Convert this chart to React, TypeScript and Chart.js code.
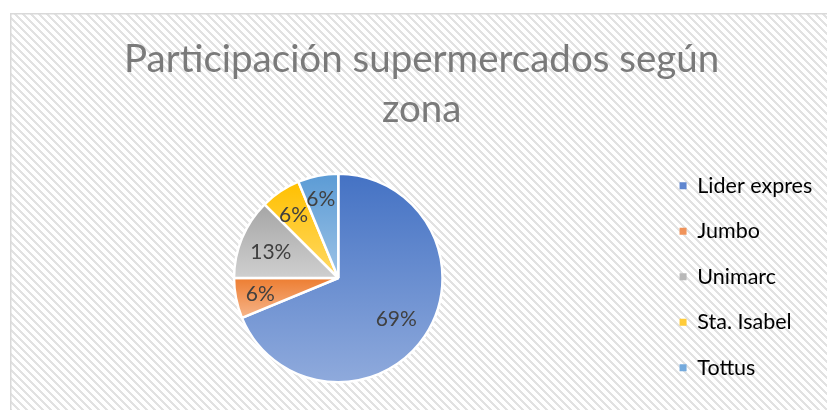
import { useEffect, useRef } from 'react';
import { Chart, registerables } from 'chart.js';

Chart.register(...registerables);

const categories = ['Lider expres', 'Jumbo', 'Unimarc', 'Sta. Isabel', 'Tottus'];
const values = [11, 1, 2, 1, 1];
const titleLines = ['Participación supermercados según', 'zona'];
const topColors = ['#4472C4', '#ED7D31', '#A5A5A5', '#FFC000', '#5B9BD5'];
const bottomColors = ['#8FAADC', '#F6B58A', '#CFCFCF', '#FFD966', '#9DC3E6'];
const legendColors = ['#5F86CF', '#F0935A', '#B8B8B8', '#FFCC3A', '#74AADD'];

const FONT = "Lato, 'Open Sans', sans-serif";
const W = 827;
const H = 410;

function sliceGradient(ctx: any) {
  const i = ctx.dataIndex ?? 0;
  const chart = ctx.chart;
  const area = chart.chartArea;
  if (!area) return topColors[i];
  const cx = (area.left + area.right) / 2;
  const cy = (area.top + area.bottom) / 2;
  const r = Math.min(area.width, area.height) / 2 - 1;
  const total = values.reduce((a, b) => a + b, 0);
  let cum = 0;
  for (let k = 0; k < i; k++) cum += values[k];
  const a0 = -Math.PI / 2 + (2 * Math.PI * cum) / total;
  const a1 = -Math.PI / 2 + (2 * Math.PI * (cum + values[i])) / total;
  let minY = Math.min(cy, cy + r * Math.sin(a0), cy + r * Math.sin(a1));
  let maxY = Math.max(cy, cy + r * Math.sin(a0), cy + r * Math.sin(a1));
  const inRange = (t: number) => t >= a0 && t <= a1;
  if (inRange(-Math.PI / 2) || inRange((3 * Math.PI) / 2)) minY = cy - r;
  if (inRange(Math.PI / 2)) maxY = cy + r;
  const g = chart.ctx.createLinearGradient(0, minY, 0, maxY);
  g.addColorStop(0, topColors[i]);
  g.addColorStop(1, bottomColors[i]);
  return g;
}

const backgroundPlugin = {
  id: 'hatchBackground',
  beforeDraw(chart: any) {
    const { ctx, width, height } = chart;
    ctx.save();
    ctx.fillStyle = '#ffffff';
    ctx.fillRect(0, 0, width, height);
    const pc = document.createElement('canvas');
    pc.width = 8;
    pc.height = 8;
    const p = pc.getContext('2d')!;
    p.fillStyle = '#ffffff';
    p.fillRect(0, 0, 8, 8);
    p.fillStyle = '#e2e2e2';
    for (let y = 0; y < 8; y++) {
      for (let x = 0; x < 8; x++) {
        if ((((x - y) % 8) + 8) % 8 < 3) p.fillRect(x, y, 1, 1);
      }
    }
    const pat = ctx.createPattern(pc, 'repeat');
    ctx.fillStyle = pat;
    ctx.fillRect(10, 13, width - 10, height - 13);
    ctx.strokeStyle = '#d9d9d9';
    ctx.lineWidth = 1.5;
    ctx.strokeRect(10.75, 13.75, width + 10, height + 10);
    ctx.restore();
  },
};

const labelPlugin = {
  id: 'pctLabels',
  afterDatasetsDraw(chart: any) {
    const meta = chart.getDatasetMeta(0);
    const ctx = chart.ctx;
    const total = values.reduce((a, b) => a + b, 0);
    ctx.save();
    ctx.font = `21px ${FONT}`;
    ctx.fillStyle = '#404040';
    ctx.textAlign = 'center';
    ctx.textBaseline = 'middle';
    meta.data.forEach((arc: any, i: number) => {
      const { x, y, startAngle, endAngle, outerRadius } = arc.getProps(
        ['x', 'y', 'startAngle', 'endAngle', 'outerRadius'],
        true
      );
      const mid = (startAngle + endAngle) / 2;
      const text = Math.round((values[i] / total) * 100) + '%';
      const hw = ctx.measureText(text).width / 2;
      const hh = 10;
      const c = Math.cos(mid);
      const s = Math.sin(mid);
      const d = outerRadius - 10 - (Math.abs(c) * hw + Math.abs(s) * hh);
      ctx.fillText(text, x + c * d - 1.5, y + s * d + 1.5);
    });
    ctx.restore();
  },
};

export default function App() {
  const ref = useRef<HTMLCanvasElement>(null);

  useEffect(() => {
    if (!ref.current) return;
    const chart = new Chart(ref.current, {
      type: 'pie',
      data: {
        labels: categories,
        datasets: [
          {
            data: values,
            backgroundColor: sliceGradient as any,
            borderColor: '#ffffff',
            borderWidth: 2.5,
          },
        ],
      },
      options: {
        responsive: false,
        animation: false,
        layout: { padding: { left: 21, right: 4.75, top: 10, bottom: 7.5 } },
        plugins: {
          tooltip: { enabled: false },
          title: {
            display: true,
            text: titleLines,
            color: '#7a7a7a',
            font: { family: FONT, size: 38.5, weight: 'normal', lineHeight: '50px' } as any,
            padding: { top: 25, bottom: 37.5 },
          },
          subtitle: {
            display: true,
            position: 'bottom',
            fullSize: false,
            text: '',
            font: { size: 1, lineHeight: '0px' } as any,
            padding: { top: 19, bottom: 0 },
          },
          legend: {
            position: 'right',
            fullSize: true,
            align: 'end',
            labels: {
              boxWidth: 7,
              boxHeight: 7,
              padding: 24,
              color: '#595959',
              font: { family: FONT, size: 21.5 },
              generateLabels: () =>
                categories.map((c, i) => ({
                  text: c,
                  fillStyle: legendColors[i],
                  strokeStyle: legendColors[i],
                  lineWidth: 0,
                  hidden: false,
                  index: i,
                  datasetIndex: 0,
                })),
            },
          },
        },
      },
      plugins: [backgroundPlugin, labelPlugin],
    });
    return () => chart.destroy();
  }, []);

  return (
    <div style={{ position: 'absolute', left: 0, top: 0, width: W, height: H, overflow: 'hidden' }}>
      <canvas ref={ref} width={W} height={H} style={{ display: 'block' }} />
    </div>
  );
}
